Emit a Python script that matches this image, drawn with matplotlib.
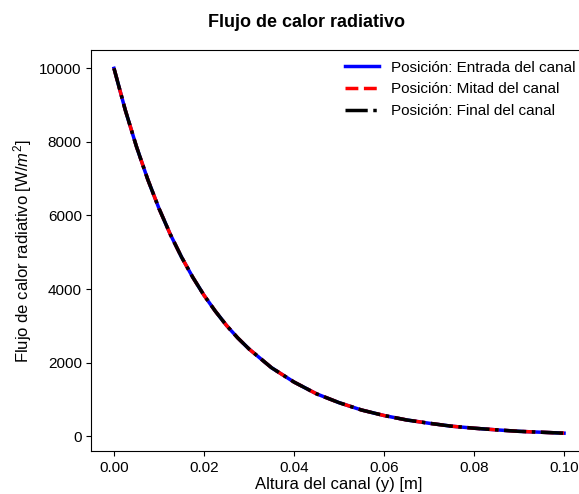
import numpy as np
import matplotlib
matplotlib.use("Agg")
import matplotlib.pyplot as plt

plt.rcParams['font.family'] = ['Liberation Sans', 'DejaVu Sans']
plt.rcParams['mathtext.fontset'] = 'custom'
plt.rcParams['mathtext.rm'] = 'Liberation Sans'
plt.rcParams['mathtext.it'] = 'Liberation Sans:italic'

# altura del canal [m]
altura = [0.0000, 0.0025, 0.0050, 0.0075, 0.0100, 0.0125, 0.0150, 0.0175,
          0.0200, 0.0225, 0.0250, 0.0275, 0.0300, 0.0350, 0.0400, 0.0450,
          0.0500, 0.0550, 0.0600, 0.0650, 0.0700, 0.0750, 0.0800, 0.0850,
          0.0900, 0.0950, 0.1000]

# flujo de calor radiativo [W/m2], igual en las tres posiciones
q_entrada = [10000, 8870, 7870, 6980, 6190, 5490, 4870, 4320,
             3830, 3400, 3010, 2670, 2370, 1860, 1470, 1150,
             910, 710, 560, 440, 350, 270, 215, 170,
             130, 105, 80]
q_mitad = list(q_entrada)
q_final = list(q_entrada)

fig = plt.figure(figsize=(5.79, 4.94), dpi=100)
ax = fig.add_axes([0.158, 0.0862, 0.855, 0.8124])

ax.plot(altura, q_entrada, color='blue', linestyle='-', linewidth=2.5,
        label='Posición: Entrada del canal')
ax.plot(altura, q_mitad, color='red', linestyle='--', linewidth=2.5,
        label='Posición: Mitad del canal')
ax.plot(altura, q_final, color='black', linestyle='-.', linewidth=2.5,
        label='Posición: Final del canal')

ax.set_xticks([0.00, 0.02, 0.04, 0.06, 0.08, 0.10])
ax.set_xlabel('Altura del canal (y) [m]', fontsize=12, labelpad=1)
ax.set_ylabel('Flujo de calor radiativo [W/$m^2$]', fontsize=12)
ax.tick_params(labelsize=11)
ax.legend(frameon=False, loc='upper right', fontsize=11,
          borderaxespad=0.3, handlelength=2.2)

fig.suptitle('Flujo de calor radiativo', x=306 / 579, y=0.972,
             fontsize=13, fontweight='bold')

fig.savefig('out.png', dpi=100)
